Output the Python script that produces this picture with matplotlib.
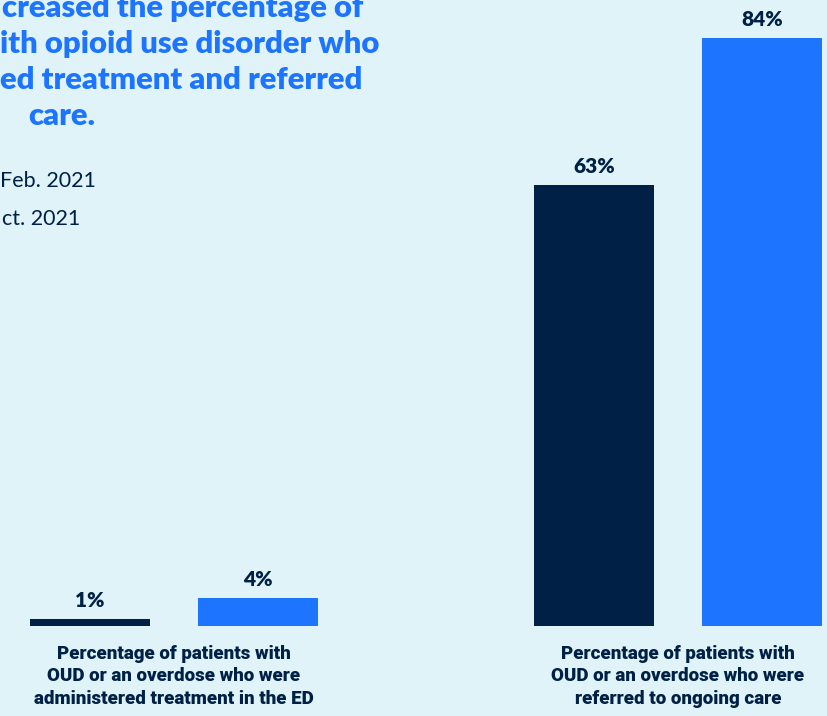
import matplotlib
matplotlib.use("Agg")
import matplotlib.pyplot as plt

# Data
groups = ["Percentage of patients with\nOUD or an overdose who were\nadministered treatment in the ED",
          "Percentage of patients with\nOUD or an overdose who were\nreferred to ongoing care"]
series_names = ["Feb. 2021", "Oct. 2021"]
feb_values = [1, 63]
oct_values = [4, 84]
value_labels_feb = ["1%", "63%"]
value_labels_oct = ["4%", "84%"]
title_lines = ["creased the percentage of", "ith opioid use disorder who",
               "ed treatment and referred", "care."]
legend_visible = ["Feb. 2021", "ct. 2021"]

BG = "#DFF3F8"
NAVY = "#002145"
BLUE = "#1C74FF"

W, H = 827, 716
fig = plt.figure(figsize=(W / 100, H / 100), dpi=100, facecolor=BG)
ax = fig.add_axes([0, 0, 1, 1])
ax.set_facecolor(BG)

unit = 504.0
ax.set_xlim(-174 / unit, (W - 174) / unit)
ax.set_ylim(-90 / 7.0, (H - 90) / 7.0)
ax.axis("off")

bw = 120 / unit
off = 84 / unit
xs = list(range(len(groups)))
b1 = ax.bar([x - off for x in xs], feb_values, width=bw, color=NAVY)
b2 = ax.bar([x + off for x in xs], oct_values, width=bw, color=BLUE)

val_font = dict(family=["Lato", "DejaVu Sans"], weight="heavy", color=NAVY)
for bars, labs in ((b1, value_labels_feb), (b2, value_labels_oct)):
    for r, t in zip(bars, labs):
        ax.annotate(t, (r.get_x() + r.get_width() / 2, r.get_height()),
                    xytext=(0, 12), textcoords="offset pixels",
                    ha="center", va="baseline", fontsize=15, **val_font)

lab_font = dict(family=["Roboto", "DejaVu Sans"], weight="heavy", color=NAVY)
for x, g in zip(xs, groups):
    ax.text(x, -2.75, g, ha="center", va="top", fontsize=13.5,
            linespacing=1.3, **lab_font)

# Title (cropped view)
ty = [8, 44, 80, 116]
tx = [2, 0, 0, 28]
for line, x, y in zip(title_lines, tx, ty):
    fig.text(x / W, 1 - y / H, line, ha="left", va="center", fontsize=22.3,
             family=["Lato", "DejaVu Sans"], weight="heavy", color=BLUE)

# Legend text (cropped view)
for t, x, y in zip(legend_visible, [0, 2], [181, 219]):
    fig.text(x / W, 1 - y / H, t, ha="left", va="center", fontsize=15.5,
             family=["Lato", "DejaVu Sans"], color=NAVY)

fig.savefig("out.png", dpi=100, facecolor=BG)
